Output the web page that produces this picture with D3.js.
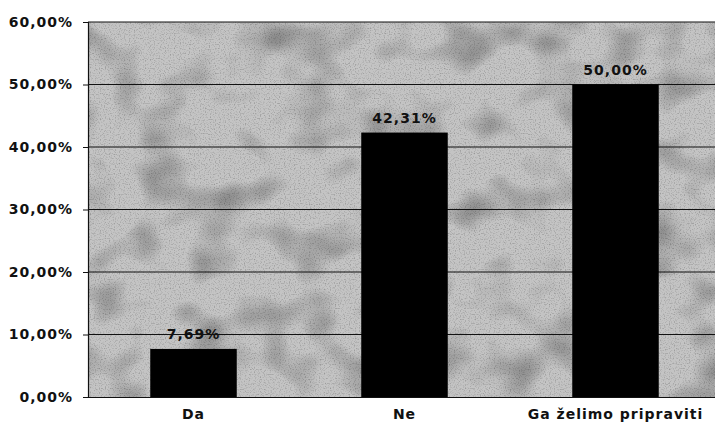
<!DOCTYPE html>
<html>
<head>
<meta charset="utf-8">
<script src="https://cdn.jsdelivr.net/npm/d3@7"></script>
<style>
  html, body { margin: 0; padding: 0; background: #fff; }
  svg { display: block; }
</style>
</head>
<body>
<div id="chart"></div>
<script>
const categories = ["Da", "Ne", "Ga želimo pripraviti"];
const values = [7.69, 42.31, 50.00];
const yTicks = [0, 10, 20, 30, 40, 50, 60];

const FONT = "'DejaVu Sans', Verdana, sans-serif";
const W = 715, H = 423;
const margin = { top: 22, right: -6, bottom: 26, left: 88 };
const w = W - margin.left - margin.right;
const h = H - margin.top - margin.bottom;

const svg = d3.select("#chart").append("svg")
  .attr("width", W).attr("height", H)
  .style("font-family", FONT);

// scanned-looking gray background: fine grain + soft blotches
const defs = svg.append("defs");
const f = defs.append("filter").attr("id", "grain")
  .attr("x", 0).attr("y", 0).attr("width", "100%").attr("height", "100%");
f.append("feTurbulence").attr("type", "fractalNoise")
  .attr("baseFrequency", "0.8 0.8").attr("numOctaves", 1).attr("seed", 3).attr("result", "n");
f.append("feColorMatrix").attr("type", "matrix")
  .attr("values", "0 0 0 0 0  0 0 0 0 0  0 0 0 0 0  0 0 0 -1.4 0.7").attr("result", "a");
f.append("feComposite").attr("in", "a").attr("in2", "SourceGraphic").attr("operator", "in");

const f2 = defs.append("filter").attr("id", "blot")
  .attr("x", 0).attr("y", 0).attr("width", "100%").attr("height", "100%");
f2.append("feTurbulence").attr("type", "fractalNoise")
  .attr("baseFrequency", "0.02 0.025").attr("numOctaves", 2).attr("seed", 7).attr("result", "n");
f2.append("feColorMatrix").attr("type", "matrix")
  .attr("values", "0 0 0 0 0  0 0 0 0 0  0 0 0 0 0  0 0 0 -1.6 0.85").attr("result", "a");
f2.append("feComposite").attr("in", "a").attr("in2", "SourceGraphic").attr("operator", "in");

const fmt = v => v.toFixed(2).replace(".", ",") + "%";

const g = svg.append("g").attr("transform", `translate(${margin.left},${margin.top})`);

const x = d3.scaleBand().domain(categories).range([0, w]).paddingInner(0.59).paddingOuter(0.295);
const y = d3.scaleLinear().domain([0, 60]).range([h, 0]);

g.append("rect").attr("width", w).attr("height", h).attr("fill", "#c4c4c4");
g.append("rect").attr("width", w).attr("height", h).attr("fill", "#dedede")
  .attr("filter", "url(#blot)").attr("opacity", 0.45);
g.append("rect").attr("width", w).attr("height", h).attr("fill", "#a0a0a0")
  .attr("filter", "url(#grain)").attr("opacity", 0.5);

// gridlines
g.append("g").selectAll("line").data(yTicks.filter(d => d > 0)).enter().append("line")
  .attr("x1", 0).attr("x2", w).attr("y1", d => y(d)).attr("y2", d => y(d))
  .attr("stroke", "#111").attr("stroke-width", 1.2);

// y axis
const ya = g.append("g").call(d3.axisLeft(y).tickValues(yTicks).tickSize(5).tickPadding(10).tickFormat(d => fmt(d)))
  .attr("font-family", FONT);
ya.select(".domain").attr("stroke", "#111").attr("stroke-width", 1.2);
ya.selectAll("line").attr("stroke", "#111");
ya.selectAll("text").style("font-size", "14px").style("font-weight", "bold")
  .style("letter-spacing", "1px").attr("fill", "#111");

// x axis
const xa = g.append("g").attr("transform", `translate(0,${h})`)
  .call(d3.axisBottom(x).tickSize(0).tickPadding(12))
  .attr("font-family", FONT);
xa.select(".domain").attr("stroke", "#111").attr("stroke-width", 1.2);
xa.selectAll("text").style("font-size", "14px").style("font-weight", "bold")
  .style("letter-spacing", "1px").attr("fill", "#111");

// bars
g.selectAll(".bar").data(values).enter().append("rect")
  .attr("x", (d, i) => x(categories[i])).attr("width", x.bandwidth())
  .attr("y", d => y(d)).attr("height", d => h - y(d))
  .attr("fill", "#000");

// value labels
g.selectAll(".lab").data(values).enter().append("text")
  .attr("x", (d, i) => x(categories[i]) + x.bandwidth() / 2)
  .attr("y", d => y(d) - 10)
  .attr("text-anchor", "middle")
  .style("font-size", "14px").style("font-weight", "bold")
  .style("letter-spacing", "1px").attr("fill", "#111")
  .text(d => fmt(d));
</script>
</body>
</html>
